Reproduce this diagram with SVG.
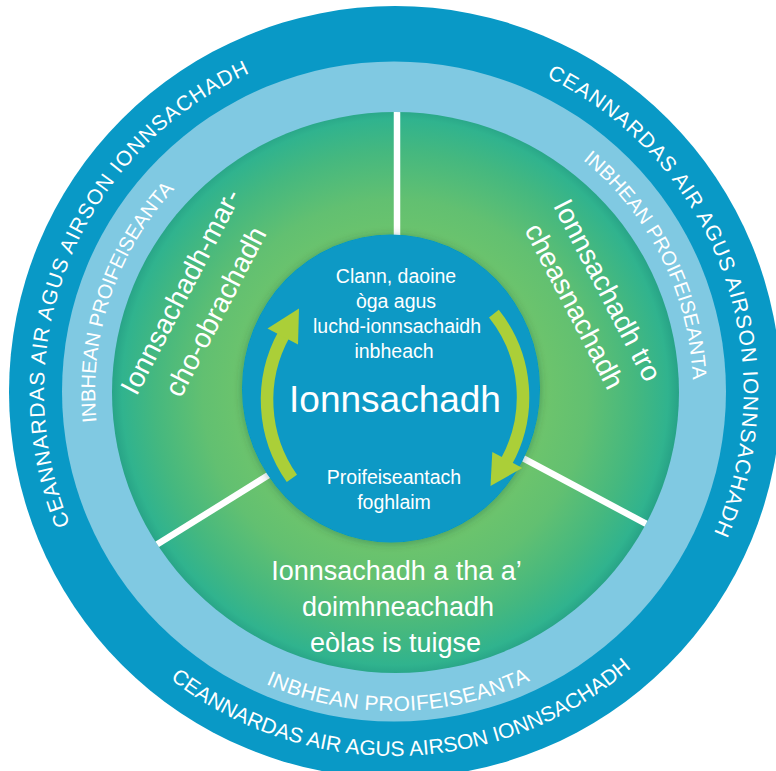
<svg xmlns="http://www.w3.org/2000/svg" width="776" height="771" viewBox="0 0 776 771">
<defs>
  <radialGradient id="greenGrad" gradientUnits="userSpaceOnUse" cx="395" cy="392" r="283">
    <stop offset="0.5" stop-color="#6fc56b"/>
    <stop offset="0.68" stop-color="#62c071"/>
    <stop offset="0.85" stop-color="#45b87f"/>
    <stop offset="0.965" stop-color="#30b38e"/>
    <stop offset="1" stop-color="#28a487"/>
  </radialGradient>
  <filter id="shadow" x="-20%" y="-20%" width="140%" height="140%">
    <feDropShadow dx="0" dy="1" stdDeviation="4" flood-color="#0b3d3a" flood-opacity="0.35"/>
  </filter>
  <clipPath id="greenClip"><ellipse cx="395.5" cy="392.5" rx="283.5" ry="280.5"/></clipPath>
  <path id="outerTL" d="M118.9,608.4 A350,350 0 0,1 344.1,45.6"/>
  <path id="outerTR" d="M454.2,47.2 A350,350 0 0,1 662,616.5"/>
  <path id="outerB" d="M83.3,581.6 A364,364 0 0,0 713.6,566.2"/>
  <path id="stdTL" d="M170.1,590.1 A299,299 0 0,1 334.4,99"/>
  <path id="stdTR" d="M411.7,93.5 A299,299 0 0,1 643.6,556.6"/>
  <path id="stdB" d="M120,555.3 A319,319 0 0,0 672.5,547.6"/>
</defs>
<style>
  text { font-family: "Liberation Sans", Arial, Helvetica, sans-serif; fill: #ffffff; }
  .ringtxt { font-size: 21px; }
  .seg { font-size: 28px; text-anchor: middle; }
  .ctr { font-size: 19.5px; text-anchor: middle; }
  .big { font-size: 37px; text-anchor: middle; }
  .divider { stroke: #ffffff; stroke-width: 6.5; fill: none; }
  .arrow-body { stroke: #abcf38; stroke-width: 12.5; fill: none; }
  .arrow-head { fill: #abcf38; }
</style>

<g id="leadership-ring">
  <circle cx="395" cy="392" r="386" fill="#0999c6"/>
  <text class="ringtxt" letter-spacing="1.1"><textPath href="#outerTL" startOffset="50%" text-anchor="middle">CEANNARDAS AIR AGUS AIRSON IONNSACHADH</textPath></text>
  <text class="ringtxt" letter-spacing="1.1"><textPath href="#outerTR" startOffset="50%" text-anchor="middle">CEANNARDAS AIR AGUS AIRSON IONNSACHADH</textPath></text>
  <text class="ringtxt" letter-spacing="0.1"><textPath href="#outerB" startOffset="50%" text-anchor="middle">CEANNARDAS AIR AGUS AIRSON IONNSACHADH</textPath></text>
</g>

<g id="standards-ring">
  <ellipse cx="394" cy="391.5" rx="332" ry="330" fill="#80c9e2"/>
  <text class="ringtxt" style="font-size:20px"><textPath href="#stdTL" startOffset="50%" text-anchor="middle">INBHEAN PROIFEISEANTA</textPath></text>
  <text class="ringtxt" style="font-size:20px"><textPath href="#stdTR" startOffset="50%" text-anchor="middle">INBHEAN PROIFEISEANTA</textPath></text>
  <text class="ringtxt" letter-spacing="0.35"><textPath href="#stdB" startOffset="50%" text-anchor="middle">INBHEAN PROIFEISEANTA</textPath></text>
</g>

<g id="learning-disc">
  <ellipse cx="395.5" cy="392.5" rx="283.5" ry="280.5" fill="url(#greenGrad)"/>
  <g clip-path="url(#greenClip)">
    <path class="divider" d="M397,100 L397,250"/>
    <path class="divider" d="M140,555.1 L285,464.8"/>
    <path class="divider" d="M515,453.9 L665,533.9"/>
  </g>
</g>

<g id="segment-collaborative">
  <text class="seg" transform="translate(189,296) rotate(-62.5)">Ionnsachadh-mar-</text>
  <text class="seg" transform="translate(224,316) rotate(-62.5)">cho-obrachadh</text>
</g>

<g id="segment-enquiry">
  <text class="seg" transform="translate(599,294.6) rotate(62.5)">Ionnsachadh tro</text>
  <text class="seg" transform="translate(566,310.5) rotate(62.5)">cheasnachadh</text>
</g>

<g id="segment-deepening">
  <text class="seg" style="font-size:27px" x="396.5" y="580">Ionnsachadh a tha a’</text>
  <text class="seg" style="font-size:27px" x="398" y="616">doimhneachadh</text>
  <text class="seg" style="font-size:27px" x="395.5" y="652">eòlas is tuigse</text>
</g>

<g id="centre">
  <ellipse cx="391" cy="388.5" rx="149" ry="154" fill="#0799c5" filter="url(#shadow)"/>
  <text class="ctr" x="396" y="283">Clann, daoine</text>
  <text class="ctr" x="396" y="308">òga agus</text>
  <text class="ctr" x="397" y="333">luchd-ionnsachaidh</text>
  <text class="ctr" x="394" y="358">inbheach</text>
  <text class="big" x="395" y="412">Ionnsachadh</text>
  <text class="ctr" x="394" y="483.5">Proifeiseantach</text>
  <text class="ctr" x="394" y="509">foghlaim</text>
</g>

<g id="connectors">
  <path class="arrow-body" d="M291.9,478.4 A136,136 0 0,1 284.1,334.1"/>
  <polygon class="arrow-head" points="299,308.5 267.5,328.5 298,344.5"/>
  <path class="arrow-body" d="M493.9,313.6 A134,134 0 0,1 506.2,462"/>
  <polygon class="arrow-head" points="490.5,486 522.3,467.9 492.3,451.9"/>
</g>
</svg>
